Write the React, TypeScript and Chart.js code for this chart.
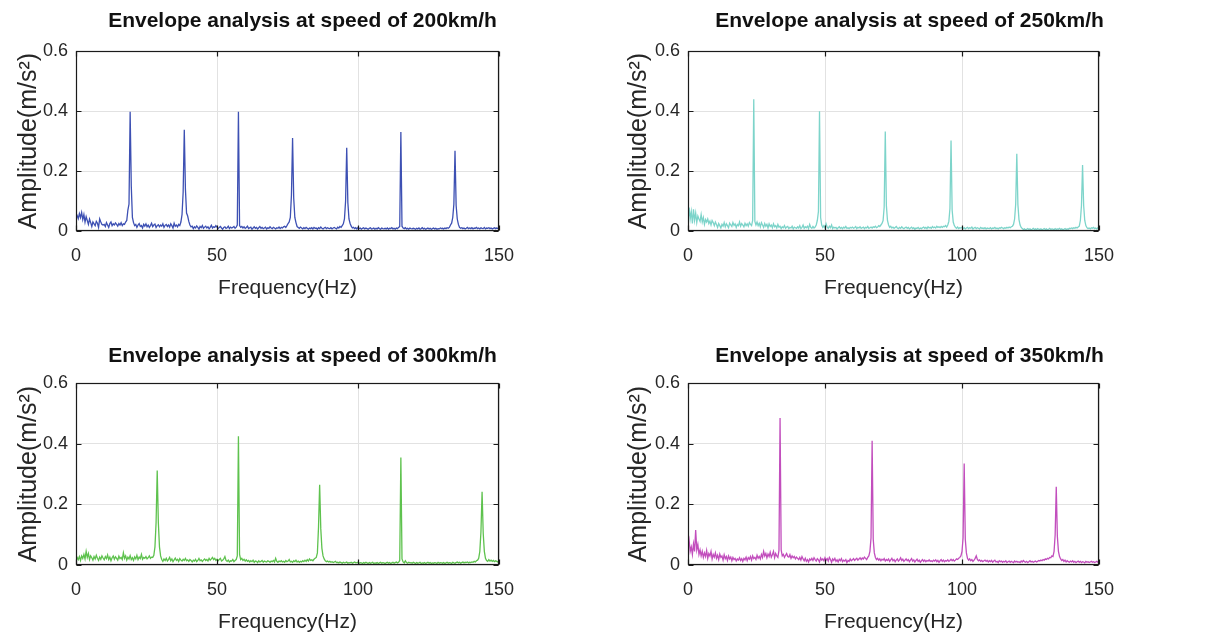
import React, { useEffect, useRef } from "react";
import { Chart, registerables } from "chart.js";

Chart.register(...registerables);

const FONT = '"Liberation Sans", Arial, Helvetica, sans-serif';

// Frequency bins (Hz): 0.4 Hz resolution from 0 to 150 Hz
const FREQ_HZ: number[] = Array.from({ length: 376 }, (_, i) => Math.round(i * 4) / 10);

const X_MIN = 0;
const X_MAX = 150;
const X_STEP = 50;
const Y_MIN = 0;
const Y_MAX = 0.6;
const Y_STEP = 0.2;
const Y_TICK_LABELS = ["0", "0.2", "0.4", "0.6"];

const X_TITLE = "Frequency(Hz)";
const Y_TITLE = "Amplitude(m/s\u00B2)";

const TITLES = [
  "Envelope analysis at speed of 200km/h",
  "Envelope analysis at speed of 250km/h",
  "Envelope analysis at speed of 300km/h",
  "Envelope analysis at speed of 350km/h",
];

const COLORS = ["#3d50b3", "#7dd4ca", "#5ec24e", "#c24ebd"];

// Amplitude spectra (m/s^2), one value per 0.4 Hz bin
const AMP_200: number[] = [
  .060,.052,.041,.058,.045, .062,.038,.055,.030,.048, .035,.022,.040,.028,.015, .030,.024,.018,.032,.026, .012,.040,.030,.022,.020,
  .022,.015,.028,.020,.012, .025,.030,.018,.024,.020, .027,.022,.016,.025,.020, .028,.018,.024,.022,.030, .035,.070,.090,.398,.150,
  .045,.028,.018,.022,.012, .020,.025,.015,.018,.010, .022,.016,.024,.014,.020, .012,.018,.026,.015,.020, .023,.012,.018,.021,.014,
  .020,.016,.024,.012,.019, .022,.015,.020,.013,.024, .018,.010,.026,.016,.020, .014,.022,.018,.030,.055, .130,.338,.140,.060,.050,
  .032,.020,.014,.016,.008, .014,.010,.017,.012,.006, .015,.011,.018,.009,.013, .016,.010,.014,.007,.012, .019,.010,.014,.012,.018,
  .013,.008,.012,.015,.010, .006,.012,.014,.009,.011, .016,.008,.013,.010,.012, .015,.009,.013,.020,.398, .018,.012,.015,.010,.014,
  .009,.012,.016,.008,.011, .013,.006,.010,.014,.009, .012,.007,.011,.015,.009, .012,.008,.010,.013,.007, .011,.009,.014,.010,.008,
  .012,.010,.007,.011,.009, .013,.008,.012,.010,.014, .016,.012,.018,.025,.030, .045,.120,.310,.110,.045, .028,.015,.012,.009,.013,
  .010,.007,.011,.008,.012, .009,.006,.010,.008,.011, .007,.012,.009,.010,.006, .011,.008,.013,.009,.007, .010,.012,.008,.011,.009,
  .008,.011,.007,.010,.012, .009,.007,.013,.010,.015, .012,.018,.024,.040,.100, .278,.095,.040,.025,.016, .010,.012,.008,.011,.007,
  .012,.008,.010,.006,.009, .011,.007,.010,.008,.006, .009,.011,.007,.008,.010, .006,.009,.007,.011,.008, .006,.010,.008,.007,.009,
  .007,.010,.006,.009,.008, .011,.007,.009,.006,.010, .008,.012,.015,.330,.016, .010,.008,.011,.007,.009, .006,.010,.008,.007,.009,
  .008,.006,.009,.007,.010, .006,.008,.011,.007,.009, .006,.008,.010,.007,.009, .006,.008,.010,.007,.009, .006,.008,.007,.010,.008,
  .009,.007,.010,.008,.011, .009,.012,.020,.026,.045, .090,.268,.085,.040,.022, .012,.009,.011,.008,.010, .007,.009,.012,.008,.010,
  .008,.011,.007,.010,.009, .012,.008,.010,.007,.011, .009,.008,.012,.007,.010, .009,.011,.008,.010,.007, .009,.011,.008,.010,.009,
  .009,
];

const AMP_250: number[] = [
  .030,.078,.040,.065,.025, .072,.035,.060,.028,.050, .040,.032,.055,.030,.045, .022,.038,.030,.040,.025, .033,.020,.035,.028,.018,
  .030,.022,.012,.025,.018, .010,.022,.016,.028,.014, .024,.018,.011,.026,.020, .015,.028,.019,.024,.012, .022,.018,.030,.016,.025,
  .020,.014,.026,.018,.024, .016,.028,.022,.018,.035, .440,.032,.020,.030,.018, .026,.014,.028,.020,.012, .025,.016,.022,.010,.024,
  .015,.020,.011,.024,.014, .018,.010,.022,.013,.016, .008,.014,.011,.018,.009, .013,.015,.008,.012,.010, .016,.007,.013,.011,.009,
  .014,.010,.018,.008,.012, .020,.009,.014,.011,.016, .008,.022,.012,.009,.015, .010,.013,.020,.035,.065, .400,.045,.020,.012,.018,
  .010,.024,.013,.009,.016, .011,.020,.008,.013,.010, .012,.007,.011,.014,.009, .012,.008,.013,.010,.015, .009,.011,.008,.012,.010,
  .013,.009,.011,.015,.008, .012,.010,.014,.009,.011, .013,.008,.012,.010,.015, .009,.011,.013,.010,.014, .012,.016,.011,.013,.018,
  .015,.020,.025,.035,.080, .332,.085,.035,.020,.012, .016,.010,.013,.009,.012, .015,.010,.008,.012,.009, .014,.010,.008,.011,.013,
  .009,.012,.007,.010,.013, .008,.011,.006,.010,.009, .012,.007,.010,.008,.011, .013,.009,.012,.008,.014, .010,.012,.009,.015,.011,
  .013,.010,.016,.012,.014, .011,.015,.012,.016,.014, .018,.013,.020,.032,.075, .302,.070,.030,.018,.012, .009,.013,.008,.011,.010,
  .012,.008,.011,.007,.010, .012,.008,.011,.009,.013, .007,.010,.012,.008,.011, .009,.007,.012,.009,.010, .008,.011,.007,.010,.009,
  .008,.011,.007,.010,.009, .012,.008,.010,.007,.011, .009,.012,.010,.008,.011, .009,.012,.010,.013,.011, .014,.016,.022,.040,.090,
  .258,.088,.038,.020,.012, .008,.005,.007,.004,.006, .008,.005,.007,.004,.006, .009,.005,.007,.004,.008, .006,.005,.007,.004,.006,
  .008,.005,.007,.004,.006, .009,.005,.007,.006,.004, .008,.005,.007,.006,.009, .005,.007,.004,.006,.008, .005,.007,.006,.009,.008,
  .010,.008,.011,.009,.012, .010,.013,.016,.035,.085, .220,.085,.035,.018,.011, .008,.010,.007,.011,.009, .012,.008,.010,.007,.011,
  .009,
];

const AMP_300: number[] = [
  .012,.025,.018,.028,.015, .030,.022,.035,.020,.045, .025,.038,.018,.030,.024, .016,.028,.020,.032,.022, .015,.026,.019,.030,.023,
  .017,.028,.021,.033,.018, .026,.014,.024,.030,.019, .027,.022,.016,.029,.021, .025,.018,.040,.022,.030, .016,.026,.020,.031,.018,
  .024,.015,.027,.020,.032, .018,.026,.021,.035,.019, .025,.022,.028,.020,.024, .030,.022,.026,.025,.032, .060,.140,.312,.140,.060,
  .030,.018,.012,.020,.015, .022,.013,.018,.025,.014, .020,.011,.017,.023,.015, .019,.012,.021,.016,.013, .019,.015,.022,.014,.017,
  .012,.018,.015,.010,.016, .013,.019,.011,.015,.022, .014,.017,.012,.016,.020, .015,.018,.013,.022,.016, .020,.025,.018,.022,.015,
  .019,.014,.018,.022,.013, .016,.020,.028,.015,.012, .016,.010,.014,.013,.018, .011,.015,.018,.030,.425, .035,.018,.022,.015,.019,
  .013,.017,.012,.015,.010, .014,.011,.016,.009,.013, .012,.008,.014,.010,.012, .015,.009,.013,.011,.010, .014,.012,.009,.013,.011,
  .015,.010,.022,.012,.009, .013,.011,.014,.010,.012, .009,.015,.011,.013,.018, .010,.012,.009,.014,.011, .016,.010,.013,.009,.012,
  .010,.014,.011,.016,.012, .018,.013,.020,.015,.017, .014,.019,.022,.025,.040, .125,.265,.120,.055,.030, .020,.014,.011,.013,.010,
  .012,.009,.011,.008,.010, .012,.008,.009,.007,.010, .008,.006,.009,.007,.008, .010,.006,.008,.007,.009, .006,.008,.010,.007,.008,
  .009,.006,.008,.007,.005, .008,.006,.009,.007,.005, .008,.006,.007,.009,.005, .007,.006,.008,.005,.007, .009,.006,.008,.007,.005,
  .007,.009,.006,.008,.005, .007,.009,.006,.008,.010, .007,.009,.015,.355,.020, .010,.007,.014,.008,.006, .009,.007,.008,.006,.009,
  .007,.005,.008,.006,.007, .009,.005,.007,.006,.008, .005,.007,.009,.006,.008, .005,.007,.006,.008,.007, .005,.009,.006,.008,.007,
  .006,.008,.005,.007,.009, .006,.008,.007,.005,.009, .007,.006,.008,.010,.007, .009,.006,.008,.010,.007, .009,.008,.010,.007,.009,
  .008,.010,.009,.012,.010, .014,.016,.022,.045,.110, .242,.105,.045,.022,.015, .012,.018,.013,.016,.012, .015,.011,.014,.012,.010,
  .012,
];

const AMP_350: number[] = [
  .060,.082,.045,.060,.035, .070,.045,.115,.050,.068, .035,.050,.030,.045,.025, .040,.028,.048,.022,.038, .030,.045,.020,.035,.026,
  .040,.022,.032,.018,.036, .025,.030,.016,.034,.021, .028,.015,.030,.020,.026, .014,.025,.018,.022,.013, .020,.016,.024,.015,.021,
  .012,.022,.017,.026,.014, .024,.019,.028,.016,.030, .021,.025,.018,.032,.022, .028,.020,.035,.025,.045, .030,.038,.024,.036,.028,
  .042,.026,.034,.045,.024, .038,.030,.025,.048,.485, .050,.030,.035,.025,.032, .038,.028,.026,.034,.022, .030,.024,.028,.020,.026,
  .022,.018,.025,.016,.028, .020,.014,.022,.012,.018, .010,.020,.016,.022,.015, .024,.018,.013,.021,.017, .010,.023,.016,.020,.014,
  .024,.016,.021,.013,.025, .018,.009,.020,.015,.022, .012,.017,.010,.019,.014, .021,.011,.016,.013,.018, .008,.015,.012,.020,.014,
  .017,.021,.015,.019,.022, .016,.020,.024,.018,.023, .020,.026,.022,.018,.025, .030,.045,.090,.410,.085, .040,.025,.018,.022,.016,
  .020,.014,.019,.016,.021, .013,.018,.015,.020,.012, .017,.022,.014,.018,.011, .016,.020,.013,.017,.024, .015,.019,.012,.016,.020,
  .014,.018,.011,.016,.021, .013,.017,.010,.015,.019, .012,.016,.009,.014,.018, .012,.016,.011,.015,.013, .017,.012,.014,.011,.016,
  .013,.017,.011,.015,.009, .014,.018,.012,.016,.011, .015,.013,.017,.012,.015, .019,.014,.018,.013,.016, .020,.018,.022,.025,.030,
  .045,.090,.335,.085,.040, .022,.016,.020,.014,.018, .012,.016,.022,.030,.018, .014,.017,.012,.015,.011, .014,.016,.012,.015,.010,
  .014,.011,.015,.009,.013, .016,.010,.012,.008,.014, .011,.013,.009,.012,.010, .014,.008,.011,.013,.009, .012,.010,.008,.013,.010,
  .012,.009,.011,.008,.013, .010,.015,.011,.009,.012, .008,.011,.014,.010,.012, .009,.011,.013,.010,.012, .015,.013,.016,.014,.018,
  .016,.020,.018,.022,.020, .025,.024,.030,.028,.045, .100,.258,.095,.045,.028, .020,.015,.018,.012,.016, .010,.014,.011,.009,.013,
  .010,.014,.009,.012,.008, .011,.013,.009,.012,.008, .011,.010,.007,.012,.009, .011,.008,.010,.012,.009, .011,.008,.010,.012,.009,
  .011,
];

const SERIES = [AMP_200, AMP_250, AMP_300, AMP_350];

type PanelCfg = {
  left: number;
  top: number;
  w: number;
  h: number;
  yWidth: number;
  rightW: number;
  titleTop: number;
  titleBottom: number;
  padBottom: number;
};

const PANELS: PanelCfg[] = [
  { left: 0, top: 0, w: 605, h: 310, yWidth: 76, rightW: 106, titleTop: 9, titleBottom: 17, padBottom: 7 },
  { left: 610, top: 0, w: 599, h: 310, yWidth: 78, rightW: 110, titleTop: 9, titleBottom: 17, padBottom: 7 },
  { left: 0, top: 332, w: 605, h: 305, yWidth: 76, rightW: 106, titleTop: 12, titleBottom: 14, padBottom: 0 },
  { left: 610, top: 332, w: 599, h: 305, yWidth: 78, rightW: 110, titleTop: 12, titleBottom: 14, padBottom: 0 },
];

const framePlugin = {
  id: "matlabFrame",
  afterDraw(chart: any) {
    const { ctx, chartArea: a, scales } = chart;
    ctx.save();
    ctx.strokeStyle = "#1a1a1a";
    ctx.lineWidth = 1.2;
    const l = Math.round(a.left) + 0.5;
    const r = Math.round(a.right) - 0.5;
    const t = Math.round(a.top) + 0.5;
    const b = Math.round(a.bottom) - 0.5;
    ctx.strokeRect(l, t, r - l, b - t);
    const tl = 5;
    ctx.beginPath();
    for (const tk of scales.x.ticks) {
      const x = Math.round(scales.x.getPixelForValue(tk.value)) + 0.5;
      ctx.moveTo(x, b);
      ctx.lineTo(x, b - tl);
      ctx.moveTo(x, t);
      ctx.lineTo(x, t + tl);
    }
    for (const tk of scales.y.ticks) {
      const y = Math.round(scales.y.getPixelForValue(tk.value)) + 0.5;
      ctx.moveTo(l, y);
      ctx.lineTo(l + tl, y);
      ctx.moveTo(r, y);
      ctx.lineTo(r - tl, y);
    }
    ctx.stroke();
    ctx.restore();
  },
};

function Panel({ idx }: { idx: number }) {
  const ref = useRef<HTMLCanvasElement>(null);
  const cfg = PANELS[idx];
  useEffect(() => {
    if (!ref.current) return;
    const values = SERIES[idx];
    const chart = new Chart(ref.current, {
      type: "line",
      data: {
        datasets: [
          {
            data: FREQ_HZ.map((f, i) => ({ x: f, y: values[i] })),
            borderColor: COLORS[idx],
            borderWidth: 1.3,
            pointRadius: 0,
            tension: 0,
            fill: false,
          },
        ],
      },
      options: {
        responsive: false,
        animation: false,
        events: [],
        layout: { padding: { left: 0, right: 0, top: 0, bottom: cfg.padBottom } },
        plugins: {
          legend: { display: false },
          tooltip: { enabled: false },
          title: {
            display: true,
            text: TITLES[idx],
            color: "#111111",
            font: { family: FONT, size: 21, weight: "bold" },
            padding: { top: cfg.titleTop, bottom: cfg.titleBottom },
          },
        },
        scales: {
          x: {
            type: "linear",
            min: X_MIN,
            max: X_MAX,
            afterFit: (s: any) => {
              s.height = 72;
            },
            ticks: {
              stepSize: X_STEP,
              padding: 14,
              color: "#262626",
              font: { family: FONT, size: 18 },
              maxRotation: 0,
            },
            grid: { color: "#e2e2e2", drawTicks: false },
            border: { display: false },
            title: {
              display: true,
              text: X_TITLE,
              color: "#262626",
              font: { family: FONT, size: 21 },
              padding: { top: 0, bottom: 2 },
            },
          },
          y: {
            type: "linear",
            min: Y_MIN,
            max: Y_MAX,
            afterFit: (s: any) => {
              s.width = cfg.yWidth;
            },
            ticks: {
              stepSize: Y_STEP,
              padding: 8,
              color: "#262626",
              font: { family: FONT, size: 18 },
              callback: (_v: any, i: number) => Y_TICK_LABELS[i],
            },
            grid: { color: "#e2e2e2", drawTicks: false },
            border: { display: false },
            title: {
              display: true,
              text: Y_TITLE,
              color: "#262626",
              font: { family: FONT, size: 25 },
              padding: { top: 14, bottom: 0 },
            },
          },
          yRight: {
            type: "linear",
            position: "right",
            min: 0,
            max: 1,
            afterFit: (s: any) => {
              s.width = cfg.rightW;
            },
            ticks: { display: false },
            grid: { display: false, drawOnChartArea: false },
            border: { display: false },
          },
        },
      } as any,
      plugins: [framePlugin],
    });
    return () => chart.destroy();
  }, [idx]);
  return (
    <canvas
      ref={ref}
      width={cfg.w}
      height={cfg.h}
      style={{ position: "absolute", left: cfg.left, top: cfg.top, width: cfg.w, height: cfg.h }}
    />
  );
}

export default function App() {
  return (
    <div style={{ position: "absolute", left: 0, top: 0, width: 1219, height: 637, background: "#ffffff" }}>
      {PANELS.map((_, i) => (
        <Panel key={i} idx={i} />
      ))}
    </div>
  );
}
